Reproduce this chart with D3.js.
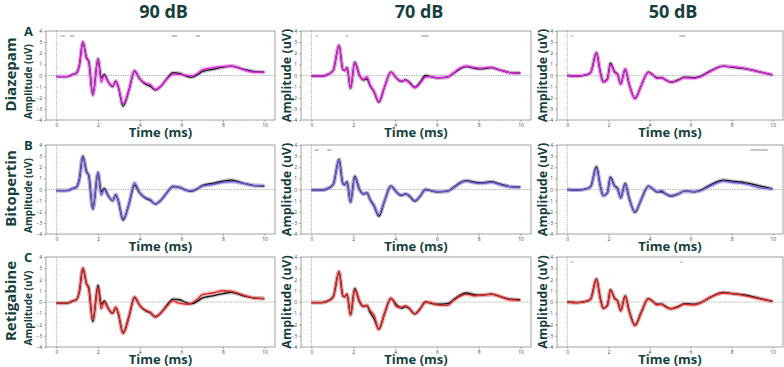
<!DOCTYPE html>
<html lang="en">
<head>
<meta charset="UTF-8">
<title>ABR waveforms</title>
<script src="https://cdn.jsdelivr.net/npm/d3@7"></script>
<style>
  body { margin: 0; background: #fff; }
  text { font-family: "Open Sans", "DejaVu Sans", sans-serif; }
</style>
</head>
<body>
<div id="chart"></div>
<script>
// column / row labels
var levels = ["90 dB", "70 dB", "50 dB"];
var drugs = ["Diazepam", "Bitopertin", "Retigabine"];
var letters = ["A", "B", "C"];
var xTicks = [0, 2, 4, 6, 8, 10];
var yTicks = [-4, -3, -2, -1, 0, 1, 2, 3, 4];

// time points (ms) per stimulus level
var t90 = [0,0.5,0.8,0.95,1.1, 1.27,1.45,1.55,1.75,2.0, 2.15,2.3,2.5,2.7,2.85, 2.97,3.2,3.5,3.75,4.0, 4.3,4.5,4.75,5.0,5.3, 5.6,5.9,6.3,6.5,6.8, 7.0,7.5,8.0,8.4,9.0, 9.5,9.99];
var t70 = [0,0.5,0.85,1.05,1.32, 1.5,1.6,1.7,1.87,2.07, 2.3,2.5,2.65,2.8,3.0, 3.22,3.5,3.8,4.1,4.3, 4.5,4.65,4.95,5.2,5.45, 5.7,6.0,6.5,6.8,7.1, 7.4,7.8,8.1,8.6,9.0, 9.5,9.99];
var t50 = [0,0.5,1.0,1.15,1.42, 1.6,1.75,1.95,2.1,2.3, 2.45,2.6,2.82,3.0,3.3, 3.6,3.95,4.2,4.35,4.6, 4.75,5.05,5.4,5.7,6.2, 6.5,7.0,7.6,8.0,8.7, 9.3,9.99];

// control (black) traces, uV
var ctl90 = [-0.1,-0.1,0.1,0.2,0.9, 3.0,1.6,1.3,-1.75,1.5, -0.2,0.1,-0.6,-1.0,-0.5, -1.0,-2.75,-1.2,0.4,-0.3, -0.8,-0.95,-1.3,-1.0,-0.3, 0.25,0.2,-0.1,-0.15,0.1, 0.35,0.55,0.75,0.85,0.55, 0.35,0.3];
var ctl70 = [-0.05,-0.05,0.15,0.5,2.7, 0.55,0.45,0.7,-1.15,1.2, 0.0,-0.4,-0.3,-0.9,-1.5, -2.4,-1.0,0.3,-0.3,-0.55, -0.4,-0.55,-1.05,-0.6,0.0, -0.1,-0.2,-0.15,0.2,0.6, 0.8,0.65,0.6,0.7,0.5, 0.25,0.2];
var ctl50 = [0.0,-0.05,0.1,0.3,2.05, 0.4,-0.55,-0.3,1.1,0.35, 0.1,-0.75,0.55,-0.7,-2.05, -0.9,0.3,0.0,-0.2,-0.2, -0.35,-0.6,-0.4,-0.15,-0.2, -0.05,0.45,0.85,0.75,0.6, 0.35,0.05];

// drug traces, uV
var diaz90 = [-0.1,-0.1,0.1,0.2,0.9, 3.0,1.5,1.3,-1.75,1.45, -0.6,0.0,-0.6,-0.95,-0.55, -1.0,-2.55,-1.2,0.45,-0.3, -0.7,-0.8,-1.25,-1.0,-0.35, 0.1,0.1,0.0,-0.05,0.2, 0.5,0.7,0.8,0.85,0.5, 0.3,0.3];
var diaz70 = [-0.05,-0.05,0.15,0.5,2.7, 0.55,0.45,0.7,-1.1,1.15, 0.0,-0.35,-0.1,-0.8,-1.45, -2.35,-1.0,0.3,-0.3,-0.5, -0.4,-0.6,-1.1,-0.7,-0.15, -0.1,-0.2,-0.15,0.25,0.65, 0.85,0.7,0.65,0.75,0.5, 0.25,0.2];
var diaz50 = [0.0,-0.05,0.1,0.3,2.0, 0.3,-0.6,-0.4,1.0,0.3, 0.05,-0.8,0.6,-0.7,-2.1, -0.9,0.3,0.0,-0.25,-0.2, -0.35,-0.6,-0.45,-0.2,-0.25, -0.1,0.4,0.85,0.8,0.6, 0.35,0.05];
var bito90 = [-0.1,-0.1,0.1,0.2,0.9, 2.95,1.5,1.3,-1.75,1.55, -0.5,0.0,-0.6,-1.0,-0.45, -1.0,-2.65,-1.2,0.6,-0.3, -0.75,-0.9,-1.3,-1.0,-0.3, 0.3,0.2,-0.1,-0.1,0.1, 0.3,0.45,0.65,0.7,0.55, 0.35,0.35];
var bito70 = [-0.05,-0.05,0.15,0.5,2.65, 0.5,0.4,0.65,-1.1,1.1, -0.05,-0.4,-0.3,-0.85,-1.45, -2.3,-1.0,0.3,-0.3,-0.5, -0.4,-0.5,-1.0,-0.6,0.0, -0.1,-0.2,-0.15,0.15,0.55, 0.75,0.6,0.55,0.65,0.45, 0.25,0.2];
var bito50 = [0.0,-0.05,0.1,0.3,1.95, 0.35,-0.55,-0.3,1.05,0.3, 0.05,-0.75,0.5,-0.7,-2.0, -0.9,0.3,0.0,-0.2,-0.1, -0.35,-0.55,-0.4,-0.15,-0.2, -0.1,0.35,0.75,0.65,0.5, 0.2,0.05];
var reti90 = [-0.1,-0.1,0.1,0.2,0.9, 3.0,1.6,1.2,-1.6,1.3, -0.6,0.0,-0.6,-1.0,-0.45, -1.0,-2.8,-1.2,0.45,-0.3, -0.75,-0.9,-1.35,-1.0,-0.4, 0.1,-0.1,-0.2,-0.1,0.3, 0.65,0.8,1.0,0.95,0.6, 0.35,0.3];
var reti70 = [-0.05,-0.05,0.15,0.5,2.7, 0.55,0.5,0.7,-1.15,1.1, 0.1,-0.4,-0.3,-0.75,-1.2, -2.45,-1.0,0.35,-0.45,-0.45, -0.35,-0.5,-1.05,-0.6,0.0, -0.05,-0.25,-0.3,0.15,0.5, 0.7,0.55,0.6,0.7,0.5, 0.2,0.15];
var reti50 = [0.0,-0.05,0.1,0.3,2.0, 0.35,-0.55,-0.35,1.05,0.3, 0.05,-0.8,0.5,-0.75,-2.1, -0.95,0.3,0.0,-0.25,-0.2, -0.4,-0.6,-0.45,-0.2,-0.25, -0.05,0.45,0.8,0.75,0.55, 0.3,0.05];

// significance bars [start, end] in ms
var sigA90 = [[0.2,0.4],[0.65,0.85],[5.55,5.8],[6.7,6.9]];
var sigA70 = [[0.2,0.3],[1.65,1.75],[5.25,5.6]];
var sigA50 = [[0.2,0.3],[5.45,5.75]];
var sigB90 = [];
var sigB70 = [[0.15,0.35],[0.75,0.95]];
var sigB50 = [[8.9,9.75]];
var sigC90 = [];
var sigC70 = [];
var sigC50 = [[0.2,0.3],[5.5,5.6]];

var times = [t90, t70, t50];
var controls = [ctl90, ctl70, ctl50];
var drugData = [[diaz90, diaz70, diaz50], [bito90, bito70, bito50], [reti90, reti70, reti50]];
var sigData = [[sigA90, sigA70, sigA50], [sigB90, sigB70, sigB50], [sigC90, sigC70, sigC50]];
var drugColor = ["#dd22dd", "#6a58d0", "#e02424"];
var drugBand = ["#f090f0", "#a89ce8", "#f09090"];

var width = 784, height = 367;
var colLeft = [46, 301, 557], colRight = [275, 531, 783];
var rowTop = [31, 145, 257], rowBottom = [120, 234, 347];
var ink = "#153f3e";

var svg = d3.select("#chart").append("svg")
    .attr("width", width).attr("height", height);

// column titles
levels.forEach(function(l, c) {
  svg.append("text")
    .attr("x", (colLeft[c] + colRight[c]) / 2 + 3).attr("y", 18)
    .attr("text-anchor", "middle")
    .attr("font-size", "18px").attr("font-weight", "bold")
    .attr("fill", ink).text(l);
});

// row labels
drugs.forEach(function(d, r) {
  var cy = (rowTop[r] + rowBottom[r]) / 2 - 1;
  svg.append("text")
    .attr("transform", "translate(16," + cy + ") rotate(-90)")
    .attr("text-anchor", "middle")
    .attr("font-size", "15px").attr("font-weight", "bold")
    .attr("fill", ink).text(d);
  svg.append("text")
    .attr("x", 24).attr("y", rowTop[r] + 5)
    .attr("font-size", "13px").attr("font-weight", "bold")
    .attr("fill", ink).text(letters[r]);
});

for (var r = 0; r < 3; r++) {
  for (var c = 0; c < 3; c++) {
    drawPanel(r, c);
  }
}

function drawPanel(r, c) {
  var x = d3.scaleLinear().domain([-0.5, 10.5]).range([colLeft[c], colRight[c]]);
  var y = d3.scaleLinear().domain([-4, 4]).range([rowBottom[r], rowTop[r]]);
  var g = svg.append("g");

  // axes
  var ax = g.append("g")
    .attr("transform", "translate(0," + rowBottom[r] + ")")
    .call(d3.axisBottom(x).tickValues(xTicks).tickSize(2).tickPadding(1));
  var ay = g.append("g")
    .attr("transform", "translate(" + colLeft[c] + ",0)")
    .call(d3.axisLeft(y).tickValues(yTicks).tickSize(2).tickPadding(2));
  [ax, ay].forEach(function(a) {
    a.select(".domain").remove();
    a.selectAll("line").attr("stroke", "#777").attr("stroke-width", 0.6);
    a.selectAll("text").attr("font-size", "5px").attr("fill", "#444")
      .attr("font-family", "DejaVu Sans, sans-serif");
  });

  // frame
  g.append("rect")
    .attr("x", colLeft[c]).attr("y", rowTop[r])
    .attr("width", colRight[c] - colLeft[c]).attr("height", rowBottom[r] - rowTop[r])
    .attr("fill", "none").attr("stroke", "#8a8a8a").attr("stroke-width", 0.8);

  // reference lines
  g.append("line")
    .attr("x1", colLeft[c]).attr("x2", colRight[c])
    .attr("y1", y(0)).attr("y2", y(0))
    .attr("stroke", "#888").attr("stroke-width", 0.7).attr("stroke-dasharray", "1.2,1.2");
  g.append("line")
    .attr("x1", x(0)).attr("x2", x(0))
    .attr("y1", rowTop[r]).attr("y2", rowBottom[r])
    .attr("stroke", "#888").attr("stroke-width", 0.7).attr("stroke-dasharray", "1.2,1.2");

  // significance bars
  sigData[r][c].forEach(function(s) {
    g.append("line")
      .attr("x1", x(s[0])).attr("x2", x(s[1]))
      .attr("y1", y(3.55)).attr("y2", y(3.55))
      .attr("stroke", "#aaa").attr("stroke-width", 1.4);
  });

  var tt = times[c];
  var line = d3.line()
    .x(function(d, i) { return x(tt[i]); })
    .y(function(d) { return y(d); })
    .curve(d3.curveMonotoneX);

  var ctl = controls[c], drug = drugData[r][c];

  // shaded error bands
  g.append("path").attr("d", line(ctl))
    .attr("fill", "none").attr("stroke", "#9a9a9a").attr("stroke-opacity", 0.55)
    .attr("stroke-width", 4).attr("stroke-linejoin", "round");
  g.append("path").attr("d", line(drug))
    .attr("fill", "none").attr("stroke", drugBand[r]).attr("stroke-opacity", 0.55)
    .attr("stroke-width", 4).attr("stroke-linejoin", "round");

  // mean traces
  g.append("path").attr("d", line(ctl))
    .attr("fill", "none").attr("stroke", "#111").attr("stroke-width", 1.3);
  g.append("path").attr("d", line(drug))
    .attr("fill", "none").attr("stroke", drugColor[r]).attr("stroke-width", 1.3);

  // axis titles
  g.append("text")
    .attr("x", (colLeft[c] + colRight[c]) / 2).attr("y", rowBottom[r] + 16.5)
    .attr("text-anchor", "middle")
    .attr("font-size", "13px").attr("font-weight", "bold")
    .attr("fill", ink).text("Time (ms)");
  var yl = c === 0 ? 32 : colLeft[c] - 10;
  var ycy = (rowTop[r] + rowBottom[r]) / 2 + (c === 0 ? 6 : 0);
  g.append("text")
    .attr("transform", "translate(" + yl + "," + ycy + ") rotate(-90)")
    .attr("text-anchor", "middle")
    .attr("font-size", c === 0 ? "10px" : "12.5px").attr("font-weight", "bold")
    .attr("fill", ink).text("Amplitude (uV)");
}
</script>
</body>
</html>
